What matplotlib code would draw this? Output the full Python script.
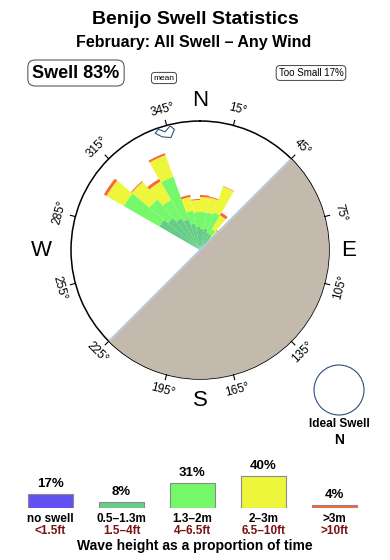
import numpy as np
import matplotlib.pyplot as plt
from matplotlib.patches import Circle

plt.rcParams['font.family'] = ['Liberation Sans', 'DejaVu Sans']

# swell rose data (direction bins, cumulative radius of each band, arbitrary units)
directions = [305, 315, 325, 335, 345, 355, 5, 15, 25, 35, 45]
top_dark_green = [4.7, 4.2, 3.7, 3.3, 2.7, 2.3, 2.1, 2.2, 1.9, 1.8, 1.2]
top_green = [8.8, 6.6, 5.8, 7.8, 4.0, 3.8, 3.8, 3.8, 4.0, 2.4, 1.6]
top_yellow = [10.8, 8.9, 7.9, 10.1, 5.4, 5.0, 5.3, 5.3, 6.75, 4.0, 2.5]
top_orange = [11.1, 9.0, 8.2, 10.3, 5.6, 5.1, 5.5, 5.4, 6.8, 4.3, 2.6]
R = 12.9  # outer circle

mean_dir = 345
tick_dirs = list(range(15, 360, 30))

# legend data
legend_pct = [17, 8, 31, 40, 4]
legend_m = ['no swell', '0.5\u20131.3m', '1.3\u20132m', '2\u20133m', '>3m']
legend_ft = ['<1.5ft', '1.5\u20134ft', '4\u20136.5ft', '6.5\u201310ft', '>10ft']
legend_colors = ['#6150f2', '#66cc88', '#74f96a', '#eef63c', '#f8683a']
band_colors = ['#66cd86', '#76f86b', '#eef63c', '#f8683a']
land_color = '#c4b9ad'

W, H = 390, 560
fig = plt.figure(figsize=(W / 100, H / 100), dpi=100)


def ftext(x, y, s, **kw):
    fig.text(x / W, 1 - y / H, s, ha='center', va='center', **kw)


# titles
ftext(195, 20, 'Benijo Swell Statistics', fontsize=14, fontweight='bold')
ftext(194, 42, 'February: All Swell \u2013 Any Wind', fontsize=11.5, fontweight='bold')

box = dict(boxstyle='round,pad=0.25,rounding_size=0.4', fc='white', ec='#444444', lw=0.7)
ftext(76, 73, 'Swell 83%', fontsize=13, fontweight='bold', bbox=box)
ftext(164, 78, 'mean', fontsize=6, bbox=dict(box, pad=0.2))
ftext(311, 73, 'Too Small 17%', fontsize=7, bbox=dict(box, pad=0.25))

# rose
cx, cy, rad = 200, 250, 129
ax = fig.add_axes([(cx - rad) / W, 1 - (cy + rad) / H, 2 * rad / W, 2 * rad / H],
                  projection='polar')
ax.set_theta_zero_location('N')
ax.set_theta_direction(-1)
ax.set_ylim(0, R)
ax.set_xticks([])
ax.set_yticks([])
ax.grid(False)
ax.spines['polar'].set_linewidth(1.1)
ax.spines['polar'].set_color('black')

th = np.radians(directions)
wdt = np.radians(10)
bottoms = np.zeros(len(directions))
for tops, col in zip([top_dark_green, top_green, top_yellow, top_orange], band_colors):
    tops = np.array(tops)
    ax.bar(th, tops - bottoms, width=wdt, bottom=bottoms, color=col,
           edgecolor='none', linewidth=0, zorder=2)
    bottoms = tops

# land
land_th = np.radians(np.linspace(45, 225, 200))
ax.fill_between(land_th, 0, R, color=land_color, lw=0, zorder=3)
ax.plot([np.radians(45)] * 2, [R, 0], color='#a9c9e6', lw=1.2, zorder=4)
ax.plot([np.radians(225)] * 2, [0, R], color='#a9c9e6', lw=1.2, zorder=4)

# mean direction marker
m_off = [-4, -6, -3.5, 0.5, 3, 1.5, -1.5]
m_r = [0.99, 0.97, 0.925, 0.9, 0.955, 0.99, 0.955]
ax.fill(np.radians([mean_dir + o for o in m_off]), [R * f for f in m_r],
        facecolor='white', edgecolor='#2c5580', lw=0.8, zorder=5)

# ticks and degree labels
for b in tick_dirs:
    ax.plot([np.radians(b)] * 2, [R, R * 1.04], color='black', lw=0.8,
            clip_on=False, zorder=5)
    rot = -b if (b < 90 or b > 270) else 180 - b
    ax.text(np.radians(b), R * 1.125, f'{b}\u00b0', fontsize=8.5, rotation=rot,
            rotation_mode='anchor', ha='center', va='center', clip_on=False)

ftext(200, 101, 'N', fontsize=16)
ftext(200, 401, 'S', fontsize=16)
ftext(41, 250, 'W', fontsize=16)
ftext(349, 250, 'E', fontsize=16)

# ideal swell
ax2 = fig.add_axes([(339 - 27) / W, 1 - (390 + 27) / H, 54 / W, 54 / H])
ax2.add_patch(Circle((0, 0), 25, fill=False, ec='#2c4f78', lw=0.8))
ax2.set_xlim(-27, 27)
ax2.set_ylim(-27, 27)
ax2.axis('off')
ftext(339, 424, 'Ideal Swell', fontsize=8.5, fontweight='bold')
ftext(339, 440, 'N', fontsize=10, fontweight='bold')

# legend bars
lx0, lx1, ly0, ly1 = 15, 370, 440, 508
lax = fig.add_axes([lx0 / W, 1 - ly1 / H, (lx1 - lx0) / W, (ly1 - ly0) / H])
xs = np.arange(len(legend_pct))
lax.bar(xs, legend_pct, width=0.634, color=legend_colors, edgecolor='#8a8a8a', lw=0.8)
lax.set_xlim(-0.5, 4.5)
lax.set_ylim(0, 85)
lax.axis('off')
for x, p, m, f in zip(xs, legend_pct, legend_m, legend_ft):
    lax.annotate(f'{p}%', (x, p), xytext=(0, 10), textcoords='offset pixels',
                 ha='center', va='center', fontsize=9.5, fontweight='bold')
    lax.annotate(m, (x, 0), xytext=(0, -11), textcoords='offset pixels',
                 ha='center', va='center', fontsize=8.5, fontweight='bold',
                 annotation_clip=False)
    lax.annotate(f, (x, 0), xytext=(0, -23), textcoords='offset pixels',
                 ha='center', va='center', fontsize=8.5, fontweight='bold',
                 color='#7a1212', annotation_clip=False)

ftext(195, 546, 'Wave height as a proportion of time', fontsize=10, fontweight='bold')

fig.savefig('out.png', dpi=100)
